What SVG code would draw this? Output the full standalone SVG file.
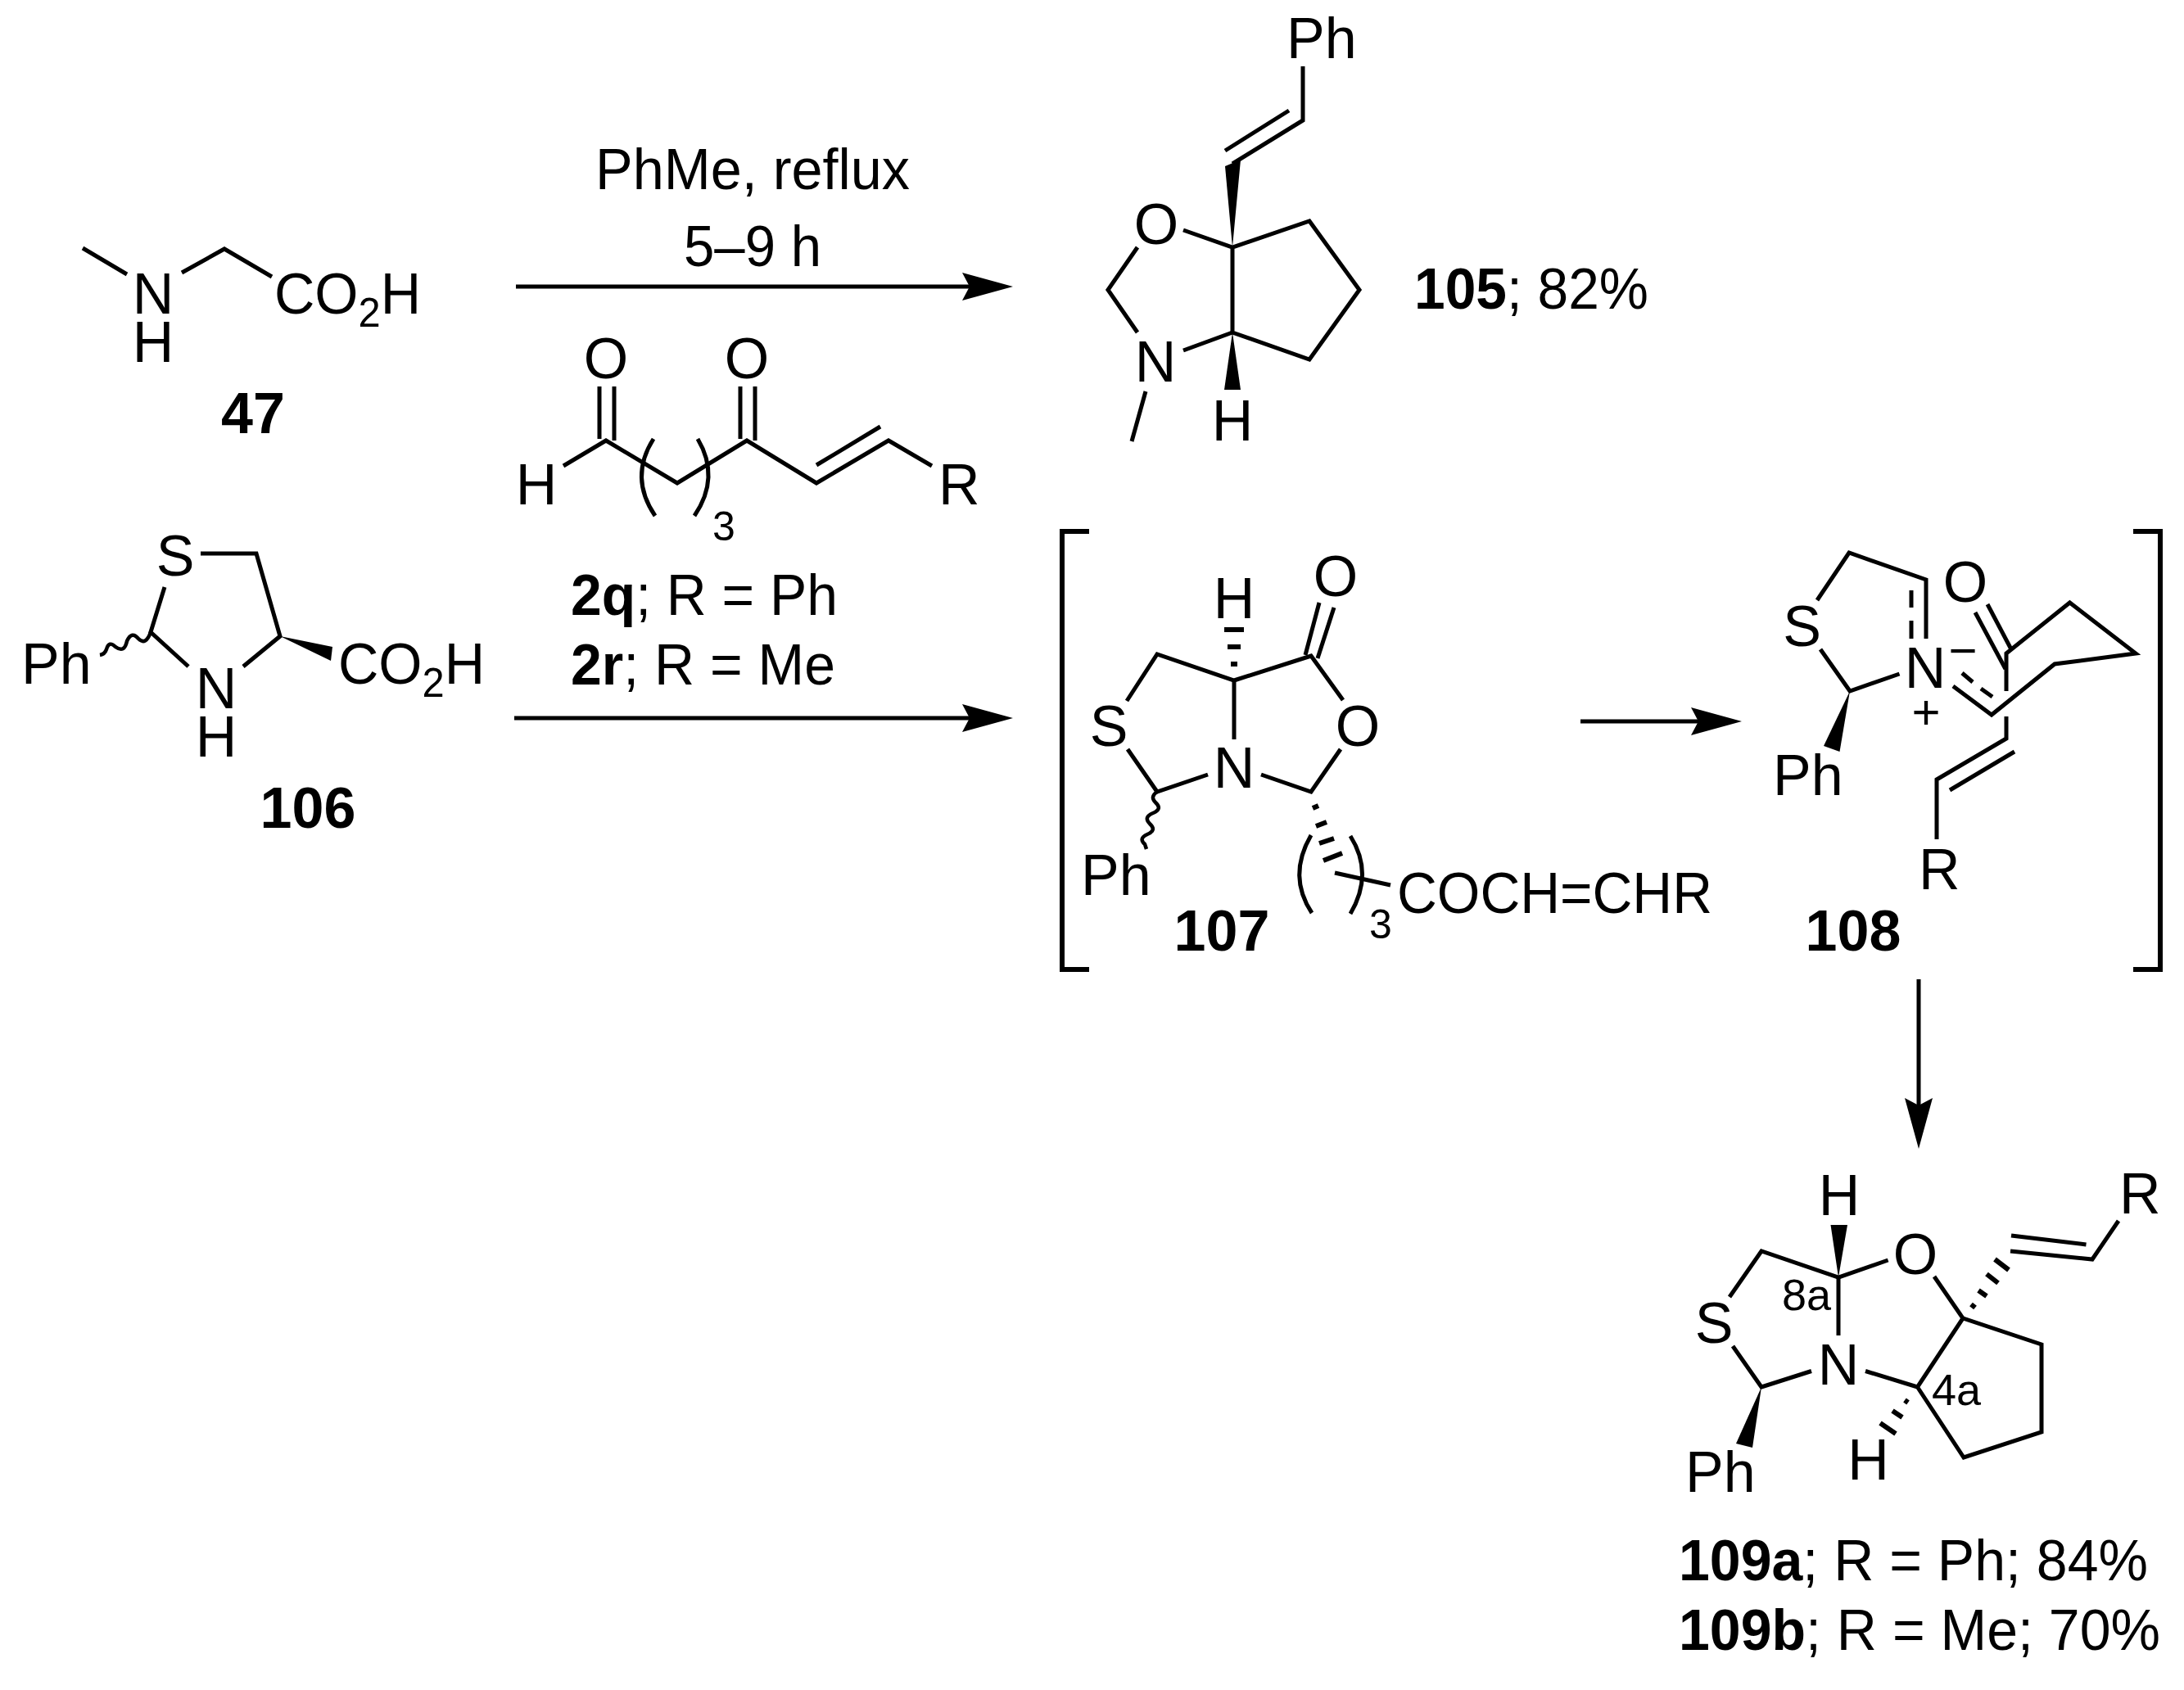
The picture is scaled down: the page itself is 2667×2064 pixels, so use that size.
<svg xmlns="http://www.w3.org/2000/svg" width="2667" height="2064" viewBox="0 0 2667 2064">
<style>
text{font-family:"Liberation Sans",Arial,sans-serif;font-size:70px;fill:#000}
.c{text-anchor:middle}
.b{font-weight:bold}
.s{font-size:50px}
.l{font-size:54px}
.q{font-size:60px}
path.k,line,polyline{fill:none;stroke:#000;stroke-width:5;stroke-linejoin:miter;stroke-linecap:butt}
polygon{fill:#000;stroke:none}
.w{fill:none;stroke:#000;stroke-width:4.5}
.br{stroke-width:6;fill:none;stroke:#000}
.h{stroke-width:6}
</style>
<defs>
<marker id="ah" markerUnits="userSpaceOnUse" markerWidth="62" markerHeight="36" refX="42" refY="18" orient="auto"><path d="M0,1 L62,18 L0,35 L9,18 Z" fill="#000"/></marker>
</defs>
<rect width="2667" height="2064" fill="#fff"/>
<g id="connectors">
<line x1="630" y1="350" x2="1217" y2="350" marker-end="url(#ah)"/>
<line x1="628" y1="877" x2="1217" y2="877" marker-end="url(#ah)"/>
<line x1="1930" y1="881" x2="2107" y2="881" marker-end="url(#ah)"/>
<line x1="2343" y1="1196" x2="2343" y2="1383" marker-end="url(#ah)"/>
</g>
<g id="conditions">
<text x="727" y="231" textLength="384" lengthAdjust="spacingAndGlyphs">PhMe, reflux</text>
<text x="835" y="325" textLength="168" lengthAdjust="spacingAndGlyphs">5–9 h</text>
</g>
<g id="n47">
<polyline points="101,303 155,335"/>
<polyline points="222,333 274,304 332,338"/>
<text class="c" x="187" y="383">N</text>
<text class="c" x="187" y="442">H</text>
<text x="335" y="383" textLength="179" lengthAdjust="spacingAndGlyphs">CO<tspan class="s" dy="16">2</tspan><tspan dy="-16">H</tspan></text>
<text class="c b" x="309" y="529">47</text>
</g>
<g id="n2q">
<line x1="732" y1="472" x2="732" y2="536"/>
<line x1="750" y1="472" x2="750" y2="538"/>
<polyline points="688,569 740,538 827,590 912,538 997,590 1085,538 1138,569"/>
<line x1="997" y1="568" x2="1075" y2="521"/>
<line x1="904" y1="472" x2="904" y2="536"/>
<line x1="922" y1="472" x2="922" y2="538"/>
<path class="k" d="M798,536 Q768,583 800,630"/>
<path class="k" d="M848,630 Q880,583 852,536"/>
<text class="c" x="740" y="462">O</text>
<text class="c" x="912" y="462">O</text>
<text class="c" x="655" y="616">H</text>
<text x="1146" y="616">R</text>
<text class="c s" x="884" y="660">3</text>
<text x="697" y="751" textLength="326" lengthAdjust="spacingAndGlyphs"><tspan class="b">2q</tspan>; R = Ph</text>
<text x="697" y="836" textLength="323" lengthAdjust="spacingAndGlyphs"><tspan class="b">2r</tspan>; R = Me</text>
</g>
<g id="n105">
<text x="1571" y="71">Ph</text>
<polyline points="1591,81 1591,147 1505,200"/>
<line x1="1574" y1="135" x2="1496" y2="184"/>
<polygon points="1505,302 1496,203 1515,195"/>
<polyline points="1445,281 1505,302 1599,270 1660,354 1599,439 1505,406 1505,302"/>
<polyline points="1389,302 1353,354 1389,406"/>
<line x1="1445" y1="428" x2="1505" y2="406"/>
<polygon points="1505,406 1495,476 1515,476"/>
<line x1="1399" y1="478" x2="1382" y2="539"/>
<text class="c" x="1412" y="298">O</text>
<text class="c" x="1411" y="466">N</text>
<text class="c" x="1505" y="538">H</text>
<text x="1727" y="377" textLength="286" lengthAdjust="spacingAndGlyphs"><tspan class="b">105</tspan>; 82%</text>
</g>
<g id="n106">
<polyline points="245,676 313,676 342,777 297,814"/>
<polyline points="230,814 184,772 201,717"/>
<path class="w" d="M184,772 q-6,17 -15,8 q-8,-10 -14,3 q-3,15 -14,7 q-8,-8 -11,3 q-2,6 -8,7"/>
<polygon points="342,777 406,790 404,807"/>
<text class="c" x="214" y="703">S</text>
<text class="c" x="264" y="865">N</text>
<text class="c" x="264" y="924">H</text>
<text x="26" y="835">Ph</text>
<text x="413" y="835" textLength="179" lengthAdjust="spacingAndGlyphs">CO<tspan class="s" dy="16">2</tspan><tspan dy="-16">H</tspan></text>
<text class="c b" x="376" y="1011">106</text>
</g>
<g id="n107">
<polyline class="br" points="1330,649 1297,649 1297,1184 1330,1184"/>
<polyline points="1376,856 1413,799 1507,831 1601,801 1640,855"/>
<line x1="1594" y1="800" x2="1611" y2="736"/>
<line x1="1609" y1="804" x2="1629" y2="742"/>
<line x1="1507" y1="831" x2="1507" y2="903"/>
<polyline points="1377,915 1413,967 1475,946"/>
<polyline points="1540,946 1601,967 1637,915"/>
<line class="h" x1="1503" y1="811" x2="1511" y2="811"/>
<line class="h" x1="1499" y1="790" x2="1515" y2="790"/>
<line class="h" x1="1495" y1="769" x2="1519" y2="769"/>
<line class="h" x1="1603" y1="987" x2="1610" y2="984"/>
<line class="h" x1="1607" y1="1009" x2="1620" y2="1004"/>
<line class="h" x1="1611" y1="1030" x2="1629" y2="1024"/>
<line class="h" x1="1616" y1="1051" x2="1639" y2="1042"/>
<line x1="1630" y1="1066" x2="1698" y2="1081"/>
<path class="k" d="M1602,1115 Q1572,1070 1601,1020"/>
<path class="k" d="M1649,1021 Q1678,1067 1649,1116"/>
<path class="w" d="M1413,967 q-9,6 -2,13 q9,8 -3,13 q-12,5 -4,13 q9,8 -3,13 q-11,5 -3,12 l2,6"/>
<text class="c" x="1354" y="911">S</text>
<text class="c" x="1658" y="911">O</text>
<text class="c" x="1631" y="728">O</text>
<text class="c" x="1507" y="962">N</text>
<text class="c" x="1507" y="755">H</text>
<text x="1320" y="1093">Ph</text>
<text class="c s" x="1686" y="1146">3</text>
<text x="1706" y="1115" textLength="385" lengthAdjust="spacingAndGlyphs">COCH=CHR</text>
<text class="c b" x="1492" y="1161">107</text>
</g>
<g id="n108">
<polyline class="br" points="2605,649 2638,649 2638,1184 2605,1184"/>
<polyline points="2219,733 2258,675 2352,708 2352,780"/>
<line x1="2334" y1="721" x2="2334" y2="742"/>
<line x1="2334" y1="758" x2="2334" y2="780"/>
<polyline points="2223,793 2259,844 2319.5,823"/>
<polygon points="2259,844 2227,911 2246.5,918"/>
<line x1="2412" y1="748" x2="2449" y2="817"/>
<line x1="2427" y1="738" x2="2456" y2="793"/>
<polyline points="2450,844 2450,798 2527.5,736 2608,798 2509,811 2432,873 2385,838"/>
<line x1="2396" y1="822" x2="2409" y2="833"/>
<line x1="2419" y1="841" x2="2433" y2="851"/>
<polyline points="2450,875 2450,902 2365,952 2365,1025"/>
<line x1="2460" y1="918" x2="2381" y2="965"/>
<text class="c" x="2200.5" y="789">S</text>
<text class="c" x="2351" y="840">N</text>
<text class="c q" x="2352" y="890">+</text>
<text class="c q" x="2397" y="815">−</text>
<text class="c" x="2400" y="735">O</text>
<text x="2165" y="971">Ph</text>
<text x="2343" y="1086">R</text>
<text class="c b" x="2263" y="1161">108</text>
</g>
<g id="n109">
<polygon points="2245,1560 2235.5,1496 2256,1496"/>
<polyline points="2112,1584 2151,1528 2245,1560 2305.6,1539"/>
<line x1="2245" y1="1560" x2="2245" y2="1631"/>
<polyline points="2116,1644 2151,1694 2212,1674.5"/>
<polygon points="2151,1694 2120,1763 2140,1768"/>
<polyline points="2278,1674.5 2341.5,1694 2397,1610 2493,1642 2493,1749 2398,1780 2341.5,1694"/>
<line x1="2397" y1="1610" x2="2362" y2="1559"/>
<line class="h" x1="2326" y1="1710" x2="2330" y2="1713"/>
<line class="h" x1="2311" y1="1723" x2="2323" y2="1731"/>
<line class="h" x1="2296" y1="1738" x2="2315" y2="1751"/>
<line class="h" x1="2407" y1="1593" x2="2412" y2="1597"/>
<line class="h" x1="2416" y1="1576" x2="2426" y2="1583"/>
<line class="h" x1="2426" y1="1556" x2="2440" y2="1567"/>
<line class="h" x1="2436" y1="1538" x2="2453" y2="1551"/>
<polyline points="2455,1528 2555,1538 2587,1491"/>
<line x1="2456" y1="1509" x2="2547.5" y2="1520"/>
<text class="c" x="2246" y="1484">H</text>
<text class="c" x="2339" y="1556">O</text>
<text class="c" x="2093" y="1640">S</text>
<text class="c" x="2245" y="1691">N</text>
<text class="c" x="2281.5" y="1807">H</text>
<text x="2058" y="1822">Ph</text>
<text x="2588" y="1482">R</text>
<text class="l" x="2176" y="1600">8a</text>
<text class="l" x="2359" y="1716">4a</text>
<text x="2050" y="1930" textLength="573" lengthAdjust="spacingAndGlyphs"><tspan class="b">109a</tspan>; R = Ph; 84%</text>
<text x="2050" y="2015" textLength="588" lengthAdjust="spacingAndGlyphs"><tspan class="b">109b</tspan>; R = Me; 70%</text>
</g>
</svg>
